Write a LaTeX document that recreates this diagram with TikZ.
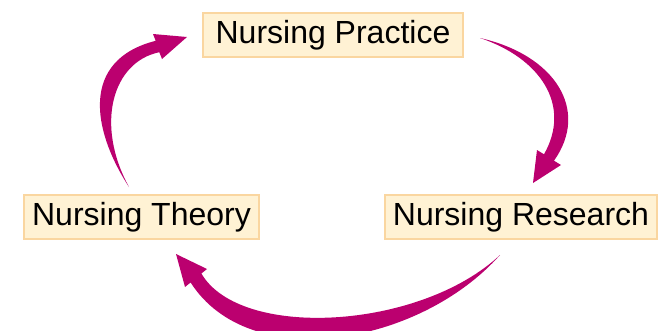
\documentclass[tikz,border=0pt]{standalone}
\usepackage{fontspec}
\setmainfont{Liberation Sans}
\definecolor{boxfill}{RGB}{255,242,212}
\definecolor{boxline}{RGB}{250,214,160}
\definecolor{cyclecol}{RGB}{187,0,111}
\begin{document}
\begin{tikzpicture}
                [x=1pt, y=-1pt,
                label/.style={draw=boxline, fill=boxfill, line width=1.5pt, inner sep=0pt, minimum height=44pt, font=\fontsize{32}{36}\selectfont},
                sweep/.style={fill=cyclecol, draw=none},]

                \useasboundingbox (0,0) rectangle (662,330);

                \node[label, minimum width=260pt] (np) at (333,35) {Nursing Practice};
                \node[label, minimum width=235pt] (nt) at (141.5,217) {Nursing Theory};
                \node[label, minimum width=272pt] (nr) at (521,217) {Nursing Research};

                % practice -> research
                \coordinate (pr1) at (480,38);
                \coordinate (pr2) at (533,183);
                \fill[sweep] (pr1) .. controls (555,55) and (590,110) .. (554,160.7) -- (561,165) -- (pr2) -- (537,150) -- (544,154.3) .. controls (572,105) and (540,58) .. (pr1) -- cycle;

                % research -> theory
                \coordinate (rt1) at (500,255);
                \coordinate (rt2) at (176,254);
                \fill[sweep] (rt1) .. controls (420,345) and (250,375) .. (190.6,282.5) -- (185,287) -- (rt2) -- (207,269) -- (201.4,273.5) .. controls (240,340) and (420,330) .. (rt1) -- cycle;

                % theory -> practice
                \coordinate (tp1) at (129,187);
                \coordinate (tp2) at (187,37);
                \fill[sweep] (tp1) .. controls (92,130) and (80,60) .. (155.7,40.8) -- (153,34) -- (tp2) -- (162,59) -- (159.3,52.2) .. controls (112,62) and (95,125) .. (tp1) -- cycle;

            \end{tikzpicture}
\end{document}
